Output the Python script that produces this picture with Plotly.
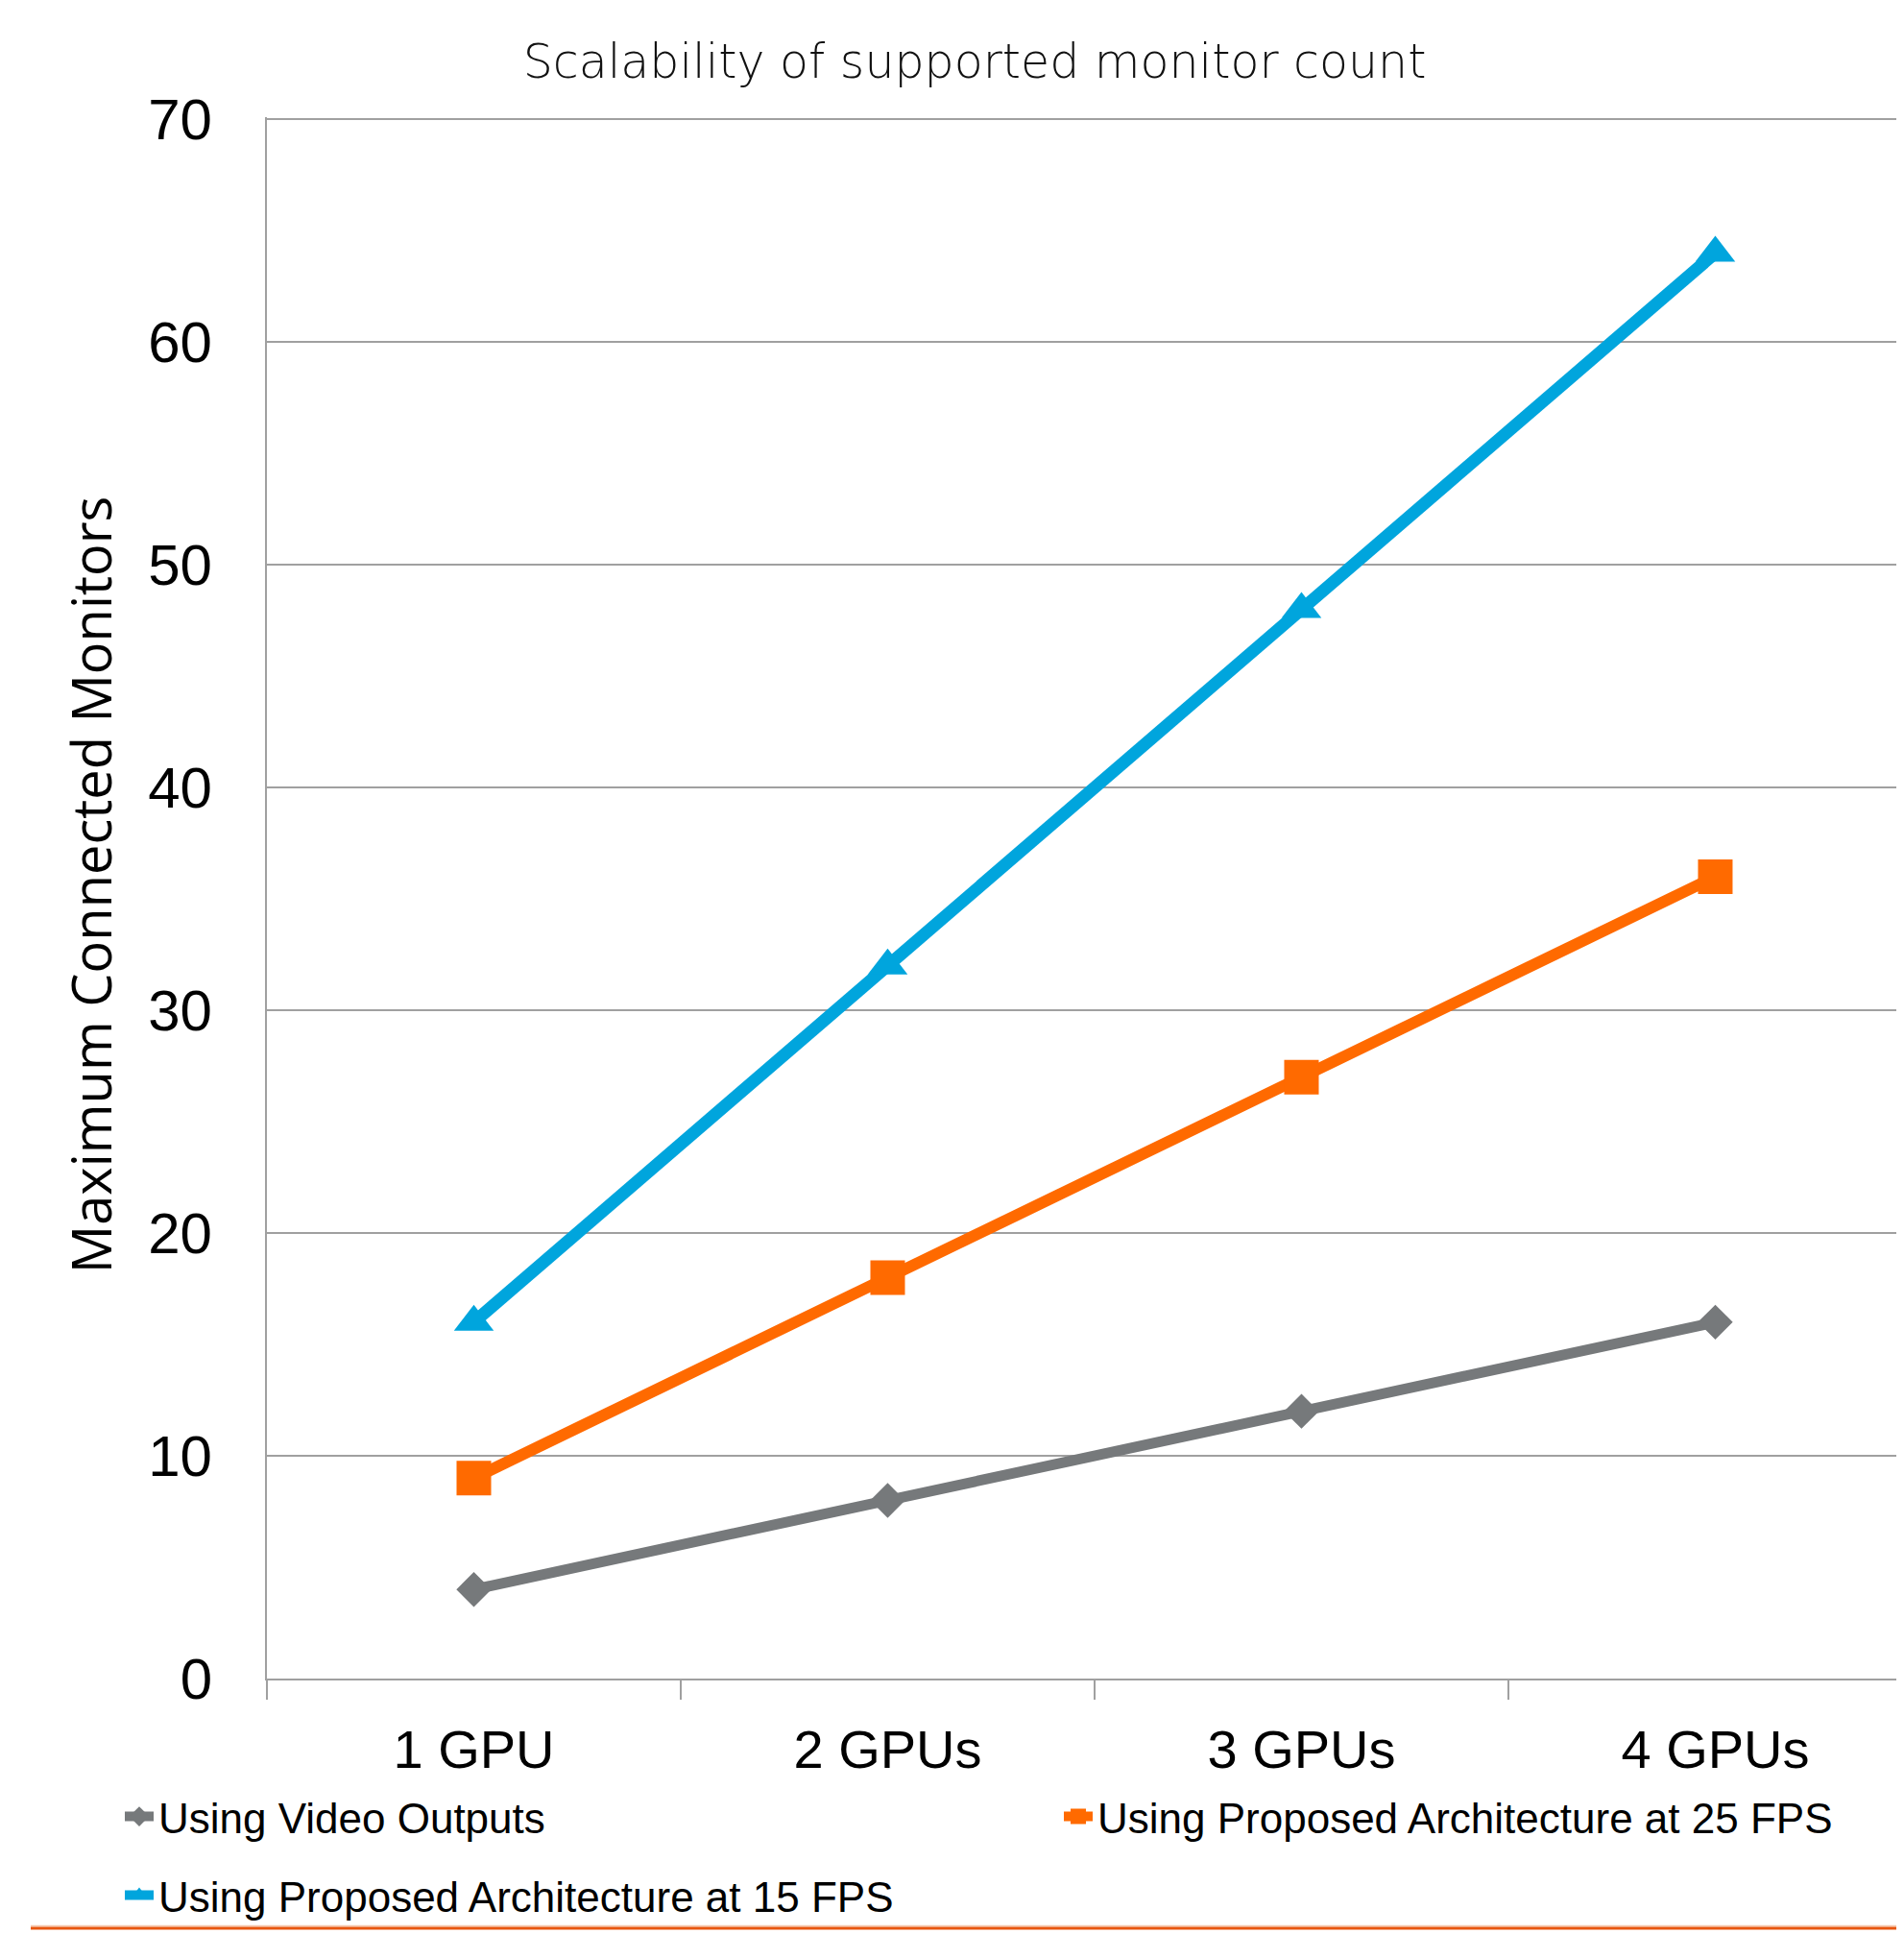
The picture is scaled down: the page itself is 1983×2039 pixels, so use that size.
import plotly.graph_objects as go

categories = ["1 GPU", "2 GPUs", "3 GPUs", "4 GPUs"]
video_outputs = [4, 8, 12, 16]
proposed_25fps = [9, 18, 27, 36]
proposed_15fps = [16, 32, 48, 64]
y_ticks = [0, 10, 20, 30, 40, 50, 60, 70]

# page is 1983x2039; html body has an 8px margin, so figure coords = page - 8
OFF = 8
W, H = 1983 - OFF, 2039 - OFF
Y_TOP = 70.1
page_y0, page_y70 = 1748, 124
unit = (page_y0 - page_y70) / 70.0
plot_h = unit * Y_TOP
L = 278 - OFF
B = H - (page_y0 - OFF)
T = H - B - plot_h
plot_w = W - L

GRAY = "#76797B"
ORANGE = "#FF6A00"
BLUE = "#00A5DD"
GRID = "#A0A0A0"


def fx(page_x):
    return (page_x - OFF) / W


def fy(page_y):
    return 1 - (page_y - OFF) / H


def px_paper(page_x):
    return (page_x - OFF - L) / plot_w


def py_paper(page_y):
    return (page_y0 - page_y) / plot_h


fig = go.Figure()
fig.add_trace(go.Scatter(
    x=categories, y=video_outputs, name="Using Video Outputs",
    mode="lines+markers", line=dict(color=GRAY, width=11),
    marker=dict(symbol="diamond", size=28, color=GRAY), legend="legend"))
fig.add_trace(go.Scatter(
    x=categories, y=proposed_25fps, name="Using Proposed Architecture at 25 FPS",
    mode="lines+markers", line=dict(color=ORANGE, width=12),
    marker=dict(symbol="square", size=36, color=ORANGE), legend="legend2"))
fig.add_trace(go.Scatter(
    x=categories, y=proposed_15fps, name="Using Proposed Architecture at 15 FPS",
    mode="lines+markers", line=dict(color=BLUE, width=13),
    marker=dict(symbol="triangle-up", size=36, color=BLUE), legend="legend3"))

legend_font = dict(family="Liberation Sans, Arial, sans-serif", size=44, color="#000000")


def leg(px, py):
    return dict(orientation="h", xref="container", yref="container",
                x=fx(px), xanchor="left", y=fy(py), yanchor="middle",
                font=legend_font, bgcolor="rgba(0,0,0,0)")


fig.update_layout(
    width=W, height=H,
    margin=dict(l=L, r=0, t=T, b=B, pad=0),
    paper_bgcolor="white", plot_bgcolor="white",
    title=dict(text="Scalability of supported monitor count",
               font=dict(family="DejaVu Sans, sans-serif", size=49, color="#111111", weight=200),
               x=fx(1015), xanchor="center", xref="container",
               y=fy(64), yanchor="middle", yref="container"),
    xaxis=dict(type="category", range=[-0.5, 3.456], tickson="boundaries",
               ticks="outside", ticklen=20, tickwidth=2, tickcolor=GRID,
               showline=True, linecolor=GRID, linewidth=2,
               showgrid=False, zeroline=False,
               tickfont=dict(family="Liberation Sans, Arial, sans-serif", size=56, color="#000000"),
               ticklabelstandoff=24, automargin=False),
    yaxis=dict(range=[0, Y_TOP], tickvals=y_ticks, ticktext=[str(v) for v in y_ticks],
               showgrid=True, gridcolor=GRID, gridwidth=2,
               showline=True, linecolor=GRID, linewidth=2, zeroline=False,
               ticks="", ticklabelstandoff=43,
               tickfont=dict(family="Liberation Sans, Arial, sans-serif", size=60, color="#000000"),
               automargin=False),
    annotations=[dict(text="Maximum Connected Monitors", textangle=-90,
                      xref="paper", yref="paper", x=px_paper(94), y=py_paper(922),
                      xanchor="center", yanchor="middle", showarrow=False,
                      font=dict(family="Open Sans, sans-serif", size=56, color="#000000"))],
    showlegend=True,
    legend=leg(125, 1892),
    legend2=leg(1103, 1892),
    legend3=leg(125, 1974),
    shapes=[
        dict(type="line", xref="paper", yref="paper",
             x0=px_paper(32), x1=1, y0=py_paper(2005.5), y1=py_paper(2005.5),
             line=dict(color="#F6C9B0", width=1.5)),
        dict(type="line", xref="paper", yref="paper",
             x0=px_paper(32), x1=1, y0=py_paper(2008), y1=py_paper(2008),
             line=dict(color="#E8560F", width=3)),
    ],
)

fig.write_html("out.html")
